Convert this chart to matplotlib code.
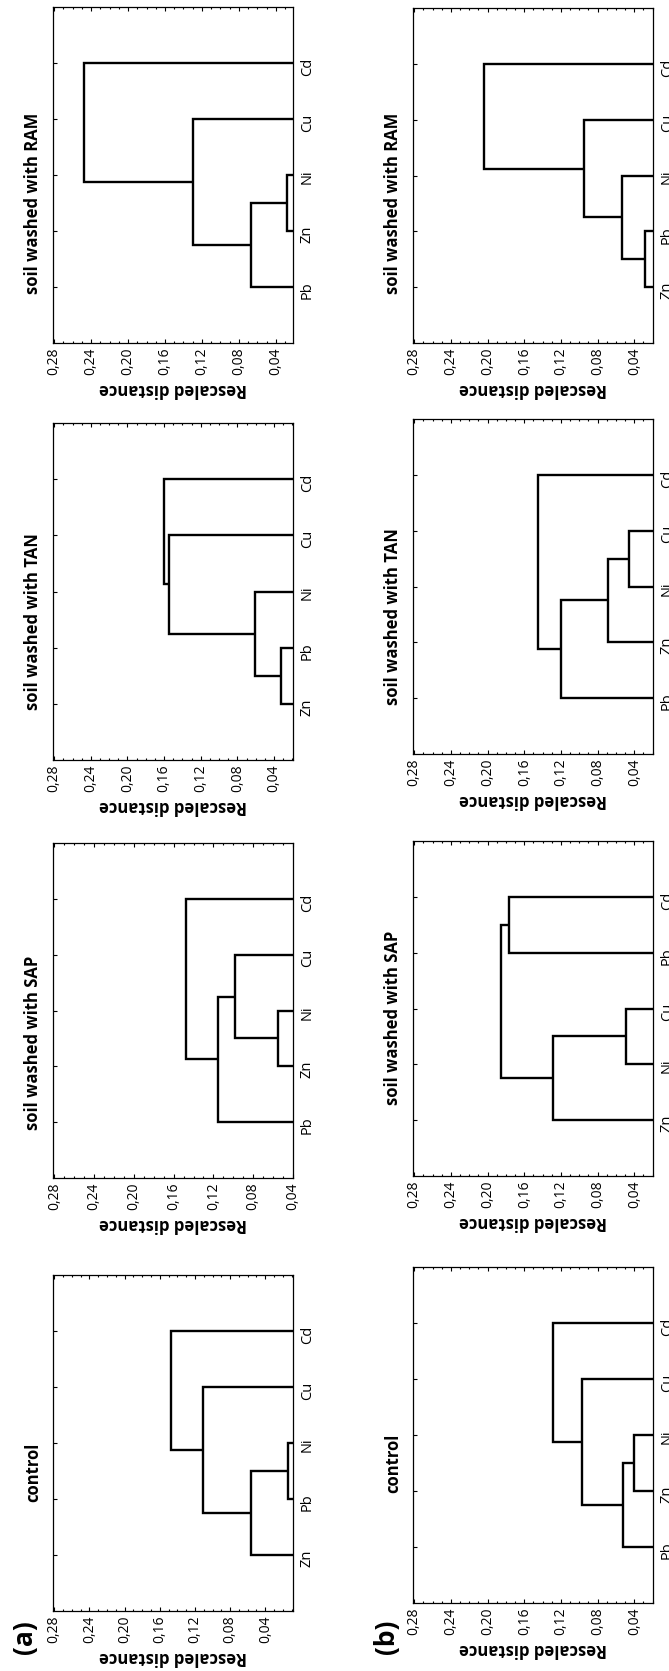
import numpy as np
import matplotlib
matplotlib.use('Agg')
import matplotlib.pyplot as plt
from matplotlib.ticker import MultipleLocator, FuncFormatter

plt.rcParams['font.family'] = ['Open Sans', 'DejaVu Sans']

# panel titles
titles = ['control', 'soil washed with SAP', 'soil washed with TAN', 'soil washed with RAM']

# leaf order (bottom -> top in the rotated figure) for row (a) and row (b)
leaves_a = [['Zn', 'Pb', 'Ni', 'Cu', 'Cd'],
            ['Pb', 'Zn', 'Ni', 'Cu', 'Cd'],
            ['Zn', 'Pb', 'Ni', 'Cu', 'Cd'],
            ['Pb', 'Zn', 'Ni', 'Cu', 'Cd']]
leaves_b = [['Pb', 'Zn', 'Ni', 'Cu', 'Cd'],
            ['Zn', 'Ni', 'Cu', 'Pb', 'Cd'],
            ['Pb', 'Zn', 'Ni', 'Cu', 'Cd'],
            ['Zn', 'Pb', 'Ni', 'Cu', 'Cd']]

# merges as (cluster i, cluster j, distance); leaves are 0-4, new clusters 5, 6, ...
merges_a = [[(1, 2, 0.0145), (0, 5, 0.056), (6, 3, 0.111), (7, 4, 0.1475)],
            [(1, 2, 0.055), (5, 3, 0.098), (0, 6, 0.115), (7, 4, 0.148)],
            [(0, 1, 0.0327), (5, 2, 0.0604), (6, 3, 0.1545), (7, 4, 0.1604)],
            [(1, 2, 0.0274), (0, 5, 0.0663), (6, 3, 0.130), (7, 4, 0.248)]]
merges_b = [[(1, 2, 0.0404), (0, 5, 0.052), (6, 3, 0.0971), (7, 4, 0.129)],
            [(1, 2, 0.049), (0, 5, 0.129), (3, 4, 0.1767), (6, 7, 0.1857)],
            [(2, 3, 0.0455), (1, 5, 0.0687), (0, 6, 0.1204), (7, 4, 0.1447)],
            [(0, 1, 0.0284), (5, 2, 0.0538), (6, 3, 0.0945), (7, 4, 0.204)]]

# lower end of the distance axis in each panel
dmin_a = [0.0085, 0.04, 0.0193, 0.0213]
dmin_b = [0.0196, 0.0196, 0.0196, 0.0196]
dmax = 0.281

W, H = 669, 1671
fig = plt.figure(figsize=(W / 100, H / 100), dpi=100)

# axes boxes in pixels: (top, bottom) per panel, columns x range
rows_a = [(1275, 1611), (843, 1178), (423, 760), (7, 343)]
rows_b = [(1267, 1603), (841, 1176), (419, 754), (8, 343)]
col_x = [(53.3, 293), (413.3, 653)]
title_y_a = [1472, 1043, 622, 203]
title_y_b = [1463, 1018, 617, 203]
title_x = [33, 393]


def fmt(v, p):
    return f"{v:.2f}".replace('.', ',')


def draw_tree(ax, leaves, merges):
    pos = {i: i + 1 for i in range(len(leaves))}
    hgt = {i: 0.0 for i in range(len(leaves))}
    k = len(leaves)
    for a, b, h in merges:
        ax.plot([hgt[a], h, h, hgt[b]], [pos[a], pos[a], pos[b], pos[b]],
                color='black', lw=1.7, solid_capstyle='butt', solid_joinstyle='miter')
        pos[k] = (pos[a] + pos[b]) / 2
        hgt[k] = h
        k += 1


def panel(col, top, bot, leaves, merges, dmin):
    x0, x1 = col_x[col]
    ax = fig.add_axes([x0 / W, 1 - bot / H, (x1 - x0) / W, (bot - top) / H])
    draw_tree(ax, leaves, merges)
    ax.set_xlim(dmax, dmin)
    ax.set_ylim(0, 6)
    ax.xaxis.set_major_locator(MultipleLocator(0.04))
    ax.xaxis.set_minor_locator(MultipleLocator(0.01))
    ax.xaxis.set_major_formatter(FuncFormatter(fmt))
    ax.tick_params(axis='x', which='both', direction='in', top=True, bottom=True,
                   labelrotation=90, labelsize=10, pad=3)
    ax.tick_params(axis='x', which='major', length=3, width=0.8)
    ax.tick_params(axis='x', which='minor', length=1.5, width=0.8)
    ax.set_yticks(range(1, len(leaves) + 1))
    ax.set_yticklabels(leaves)
    ax.tick_params(axis='y', direction='in', left=True, right=False, labelleft=False,
                   labelright=True, labelrotation=90, labelsize=10.5, length=3, pad=5)
    for s in ax.spines.values():
        s.set_linewidth(0.9)
    ax.set_xlabel('Rescaled distance', rotation=180, fontweight='bold', fontsize=12, labelpad=4)
    return ax


for i in range(4):
    panel(0, rows_a[i][0], rows_a[i][1], leaves_a[i], merges_a[i], dmin_a[i])
    fig.text(title_x[0] / W, 1 - title_y_a[i] / H, titles[i], rotation=90, fontweight='bold',
             fontsize=12, ha='center', va='center')
    panel(1, rows_b[i][0], rows_b[i][1], leaves_b[i], merges_b[i], dmin_b[i])
    fig.text(title_x[1] / W, 1 - title_y_b[i] / H, titles[i], rotation=90, fontweight='bold',
             fontsize=12, ha='center', va='center')

fig.text(25 / W, 1 - 1637 / H, '(a)', rotation=90, fontweight='bold', fontsize=19,
         ha='center', va='center')
fig.text(387 / W, 1 - 1637 / H, '(b)', rotation=90, fontweight='bold', fontsize=19,
         ha='center', va='center')

fig.savefig('out.png', dpi=100)
